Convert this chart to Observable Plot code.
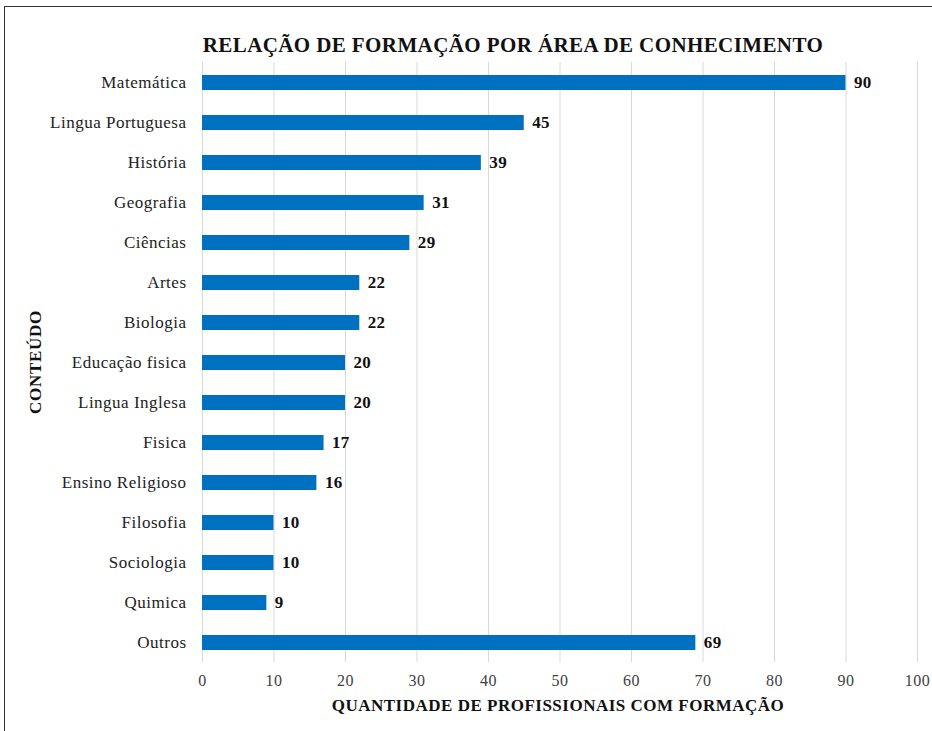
<!DOCTYPE html>
<html><head><meta charset="utf-8">
<script src="https://cdn.jsdelivr.net/npm/d3@7"></script>
<script src="https://cdn.jsdelivr.net/npm/@observablehq/plot@0.6"></script>
<style>
body{margin:0;background:#fff;}
#wrap{position:relative;width:932px;height:731px;overflow:hidden;font-family:"Liberation Serif","Times New Roman",serif;}
#border{position:absolute;left:3.5px;top:6px;width:960px;height:760px;border-left:1.5px solid #333;border-top:1.5px solid #333;}
#chart{position:absolute;left:0;top:0;}
#chart svg text{font-family:"Liberation Serif","Times New Roman",serif;}
.t{position:absolute;font-weight:bold;white-space:nowrap;color:#111;transform:translate(-50%,-50%);}
</style></head><body>
<div id="wrap"><div id="border"></div><div id="chart"></div>
<div class="t" id="title" style="left:513px;top:45px;font-size:21px;letter-spacing:0.4px;">RELAÇÃO DE FORMAÇÃO POR ÁREA DE CONHECIMENTO</div>
<div class="t" id="xlab" style="left:558px;top:706px;font-size:17px;letter-spacing:0.5px;">QUANTIDADE DE PROFISSIONAIS COM FORMAÇÃO</div>
<div class="t" id="ylab" style="left:36px;top:362px;font-size:17px;letter-spacing:0.7px;transform:translate(-50%,-50%) rotate(-90deg);">CONTEÚDO</div>
</div>
<script>
const categories = ["Matemática","Lingua Portuguesa","História","Geografia","Ciências","Artes","Biologia","Educação fisica","Lingua Inglesa","Fisica","Ensino Religioso","Filosofia","Sociologia","Quimica","Outros"];
const values = [90,45,39,31,29,22,22,20,20,17,16,10,10,9,69];
const xTicks = [0,10,20,30,40,50,60,70,80,90,100];
const data = categories.map((c,i)=>({c, v: values[i]}));
const chart = Plot.plot({
  width:932, height:731, marginLeft:202, marginRight:15, marginTop:62, marginBottom:69,
  style:{fontFamily:"Liberation Serif, Times New Roman, serif", fontSize:"16px", background:"transparent", overflow:"visible"},
  x:{domain:[0,100], label:null},
  y:{domain:categories, paddingInner:0.625, paddingOuter:0.3125, label:null},
  marks:[
    Plot.gridX(xTicks,{stroke:"#d9d9d9", strokeOpacity:1, strokeWidth:1}),
    Plot.barX(data,{x:"v", y:"c", fill:"#0070c0"}),
    Plot.text(data,{x:"v", y:"c", text:d=>String(d.v), textAnchor:"start", dx:8, fontWeight:"bold", fontSize:17, fill:"#111", className:"vals"}),
    Plot.axisX(xTicks,{tickSize:0, tickPadding:12, fontSize:16, fill:"#404040", label:null, className:"xax"}),
    Plot.axisY({tickSize:0, tickPadding:16, fontSize:17, fill:"#222", label:null, className:"yax"})
  ]
});
d3.select(chart).selectAll(".yax text").attr("letter-spacing","0.5px");
d3.select(chart).selectAll(".xax text").attr("letter-spacing","0.5px");
d3.select(chart).selectAll(".vals text").attr("letter-spacing","0.3px");
document.getElementById("chart").appendChild(chart);
</script>
</body></html>
